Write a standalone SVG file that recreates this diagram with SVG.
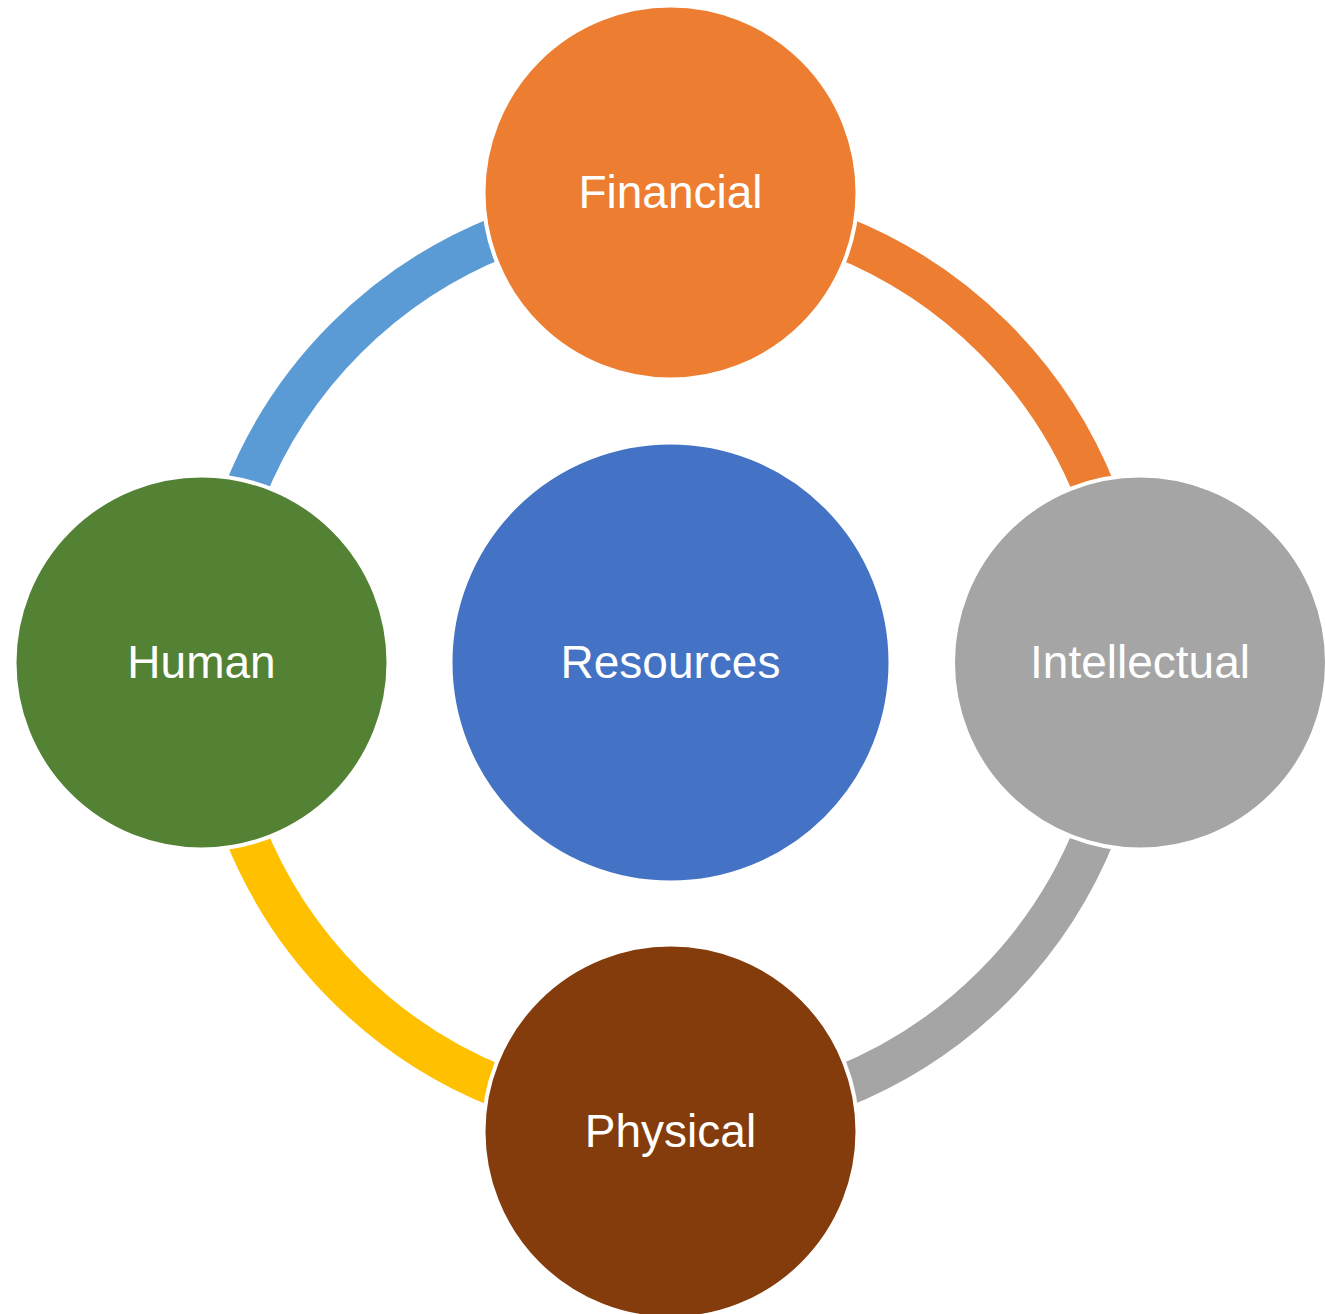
<svg xmlns="http://www.w3.org/2000/svg" width="1325" height="1314" viewBox="0 0 1325 1314">
<style>
.arc{fill:none;stroke-width:42;stroke-linecap:butt}
.node{stroke:#FFFFFF;stroke-width:4}
.lbl{font-family:"Liberation Sans",Arial,sans-serif;font-size:46px;fill:#FFFFFF;text-anchor:middle}
</style>
<rect width="1325" height="1314" fill="#FFFFFF"/>
<g id="connectors">
<path class="arc" stroke="#5B9BD5" d="M 212,662 A 458 458 0 0 1 670,204"/>
<path class="arc" stroke="#ED7D31" d="M 670,204 A 458 458 0 0 1 1128,662"/>
<path class="arc" stroke="#A5A5A5" d="M 1128,662 A 458 458 0 0 1 670,1120"/>
<path class="arc" stroke="#FFC000" d="M 670,1120 A 458 458 0 0 1 212,662"/>
</g>
<g id="resources">
<circle class="node" cx="670.5" cy="662.5" r="220" fill="#4472C4"/>
<text class="lbl" x="670.5" y="678">Resources</text>
</g>
<g id="financial">
<circle class="node" cx="670.5" cy="192.5" r="187" fill="#ED7D31"/>
<text class="lbl" x="670.5" y="208">Financial</text>
</g>
<g id="intellectual">
<circle class="node" cx="1140" cy="662.5" r="187" fill="#A5A5A5"/>
<text class="lbl" x="1140" y="678">Intellectual</text>
</g>
<g id="physical">
<circle class="node" cx="670.5" cy="1131.5" r="187" fill="#843C0C"/>
<text class="lbl" x="670.5" y="1147">Physical</text>
</g>
<g id="human">
<circle class="node" cx="201.5" cy="662.5" r="187" fill="#548235"/>
<text class="lbl" x="201.5" y="678">Human</text>
</g>
</svg>
